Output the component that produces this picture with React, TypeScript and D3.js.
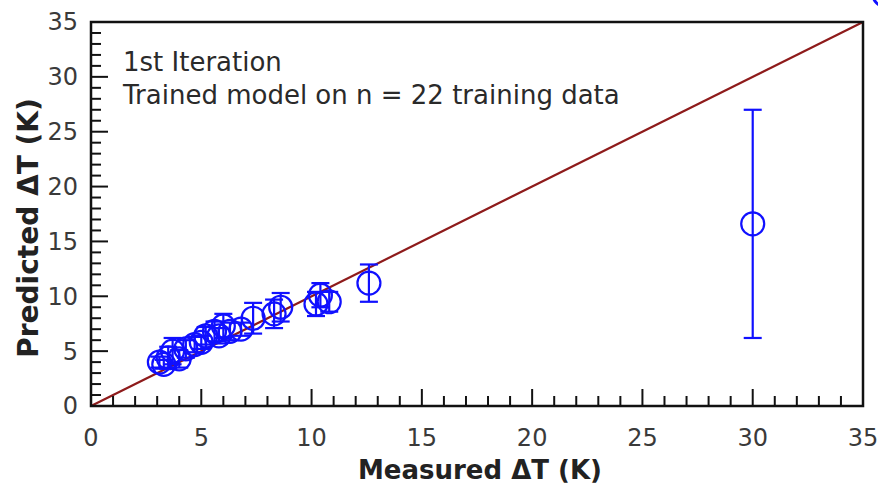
import * as d3 from 'd3';

// measured vs predicted temperature rise, with ± error
const measured = [3.1, 3.3, 3.5, 3.7, 4.0, 4.3, 4.7, 5.0, 5.2, 5.6, 5.8, 6.0, 6.3, 6.8, 7.35, 8.3, 8.6, 10.2, 10.4, 10.8, 12.6, 30.0];
const predicted = [4.0, 3.8, 4.4, 5.0, 4.3, 5.2, 5.6, 5.8, 6.4, 6.8, 6.4, 7.3, 6.8, 7.0, 8.0, 8.4, 9.0, 9.3, 10.1, 9.5, 11.2, 16.6];
const errors = [0.5, 0.4, 1.0, 1.2, 0.8, 0.8, 0.7, 0.6, 0.8, 0.9, 0.7, 1.1, 0.8, 0.6, 1.4, 1.3, 1.3, 1.1, 1.1, 0.9, 1.7, 10.4];

const majorTicks = [0, 5, 10, 15, 20, 25, 30, 35];
const minorTicks = d3.range(0, 36, 1);
const annotation = ['1st Iteration', 'Trained model on n = 22 training data'];

// stray marker from the neighbouring panel, cut off at the corner
const strayMarker = { x: 36.0, y: 37.5 };

const width = 878;
const height = 488;
const margin = { top: 22, right: 15, bottom: 82, left: 91 };

export default function App() {
  const x = d3.scaleLinear().domain([0, 35]).range([margin.left, width - margin.right]);
  const y = d3.scaleLinear().domain([0, 35]).range([height - margin.bottom, margin.top]);
  const points = measured.map((m, i) => ({ x: m, y: predicted[i], e: errors[i] }));
  const line = d3.line<number>().x((d) => x(d)).y((d) => y(d));
  const font = '"DejaVu Sans", sans-serif';

  return (
    <svg
      width={width}
      height={height}
      style={{ position: 'absolute', left: 0, top: 0, background: '#fff' }}
      fontFamily={font}
    >
      {/* identity line */}
      <path d={line([0, 35]) ?? ''} stroke="#8e1b1b" strokeWidth={2.2} fill="none" />

      {/* error bars and markers */}
      <g stroke="#1010ff" fill="none" strokeWidth={2.2}>
        {points.map((p, i) => (
          <g key={i}>
            <line x1={x(p.x)} x2={x(p.x)} y1={y(p.y - p.e)} y2={y(p.y + p.e)} />
            <line x1={x(p.x) - 9} x2={x(p.x) + 9} y1={y(p.y - p.e)} y2={y(p.y - p.e)} />
            <line x1={x(p.x) - 9} x2={x(p.x) + 9} y1={y(p.y + p.e)} y2={y(p.y + p.e)} />
            <circle cx={x(p.x)} cy={y(p.y)} r={11.5} />
          </g>
        ))}
        <circle cx={x(strayMarker.x)} cy={y(strayMarker.y)} r={12} strokeWidth={3} />
      </g>

      {/* ticks, inward on bottom and left */}
      <g stroke="#111" strokeWidth={2}>
        {minorTicks.map((t) => {
          const len = t % 5 === 0 ? 17 : 10;
          return (
            <g key={t}>
              <line x1={x(t)} x2={x(t)} y1={y(0)} y2={y(0) - len} />
              <line x1={x(0)} x2={x(0) + len} y1={y(t)} y2={y(t)} />
            </g>
          );
        })}
      </g>

      {/* frame */}
      <rect
        x={x(0)}
        y={y(35)}
        width={x(35) - x(0)}
        height={y(0) - y(35)}
        fill="none"
        stroke="#111"
        strokeWidth={2.5}
      />

      {/* tick labels */}
      <g fill="#3a3a3a" fontSize={24}>
        {majorTicks.map((t) => (
          <text key={'x' + t} x={x(t)} y={y(0) + 40} textAnchor="middle">
            {t}
          </text>
        ))}
        {majorTicks.map((t) => (
          <text key={'y' + t} x={x(0) - 13} y={y(t)} dy="0.35em" textAnchor="end">
            {t}
          </text>
        ))}
      </g>

      {/* axis titles */}
      <text
        x={(x(0) + x(35)) / 2 + 3}
        y={height - 9}
        textAnchor="middle"
        fontSize={26}
        fontWeight="bold"
        fill="#222"
      >
        Measured ΔT (K)
      </text>
      <text
        transform={`translate(38,${(y(0) + y(35)) / 2 + 14}) rotate(-90)`}
        textAnchor="middle"
        fontSize={28}
        fontWeight="bold"
        fill="#222"
      >
        Predicted ΔT (K)
      </text>

      {/* annotation */}
      <g fill="#2a2a2a" fontSize={26}>
        {annotation.map((s, i) => (
          <text key={i} x={x(0) + 32} y={y(35) + 49 + i * 33}>
            {s}
          </text>
        ))}
      </g>
    </svg>
  );
}
